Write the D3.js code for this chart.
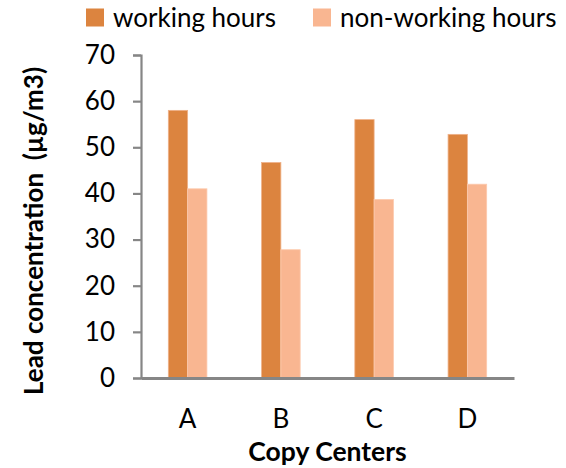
<!DOCTYPE html>
<html>
<head>
<meta charset="utf-8">
<script src="https://cdn.jsdelivr.net/npm/d3@7/dist/d3.min.js"></script>
<style>
  html, body { margin: 0; padding: 0; background: #fff; }
  svg { display: block; }
  text { font-family: Lato, "Open Sans", "Liberation Sans", sans-serif; fill: #000; }
</style>
</head>
<body>
<svg id="chart" width="566" height="468"></svg>
<script>
// Lead concentration at four copy centres
const centers = ["A", "B", "C", "D"];
const seriesNames = ["working hours", "non-working hours"];
const workingHours = [58, 46.7, 56, 52.8];
const nonWorkingHours = [41, 27.8, 38.7, 42];
const yTicks = [0, 10, 20, 30, 40, 50, 60, 70];
const colors = ["#DC843F", "#F9B691"];
const strokes = ["#EFB189", "#FCCAAE"];

const svg = d3.select("#chart");
const margin = { left: 141, right: 52, top: 55, bottom: 90 };
const W = 566, H = 468;
const plotW = W - margin.left - margin.right;
const plotH = H - margin.top - margin.bottom;

const series = [workingHours, nonWorkingHours];

const x0 = d3.scaleBand().domain(centers).range([0, plotW])
  .paddingInner(0.586).paddingOuter(0.293);
const x1 = d3.scaleBand().domain(d3.range(series.length)).range([0, x0.bandwidth()]);
const y = d3.scaleLinear().domain([0, 70]).range([plotH, 0]);

const g = svg.append("g").attr("transform", `translate(${margin.left},${margin.top})`);

// bars
const groups = g.selectAll("g.center").data(centers).join("g")
  .attr("class", "center")
  .attr("transform", d => `translate(${x0(d)},0)`);

groups.selectAll("rect").data((c, i) => series.map((s, k) => ({ k, v: s[i] }))).join("rect")
  .attr("x", d => x1(d.k))
  .attr("y", d => y(d.v))
  .attr("width", x1.bandwidth())
  .attr("height", d => plotH - y(d.v))
  .attr("fill", d => colors[d.k])
  .attr("stroke", d => strokes[d.k])
  .attr("stroke-width", 0.8);

// y axis
const yAxis = g.append("g")
  .call(d3.axisLeft(y).tickValues(yTicks).tickSize(8).tickPadding(18).tickSizeOuter(8));
yAxis.select(".domain").attr("stroke", "#868686").attr("stroke-width", 2.2);
yAxis.selectAll(".tick line").attr("stroke", "#868686").attr("stroke-width", 2.2);
yAxis.selectAll(".tick text").style("font-size", "26px").attr("fill", "#000");

// x axis
const xAxis = g.append("g").attr("transform", `translate(0,${plotH})`)
  .call(d3.axisBottom(x0).tickSize(0).tickPadding(32));
xAxis.select(".domain").attr("stroke", "#868686").attr("stroke-width", 3);
xAxis.selectAll(".tick text").style("font-size", "26px").attr("fill", "#000");

// axis titles
svg.append("text")
  .attr("x", margin.left + plotW / 2).attr("y", 461)
  .attr("text-anchor", "middle")
  .style("font-size", "26.5px").style("font-weight", "bold")
  .text("Copy Centers");

svg.append("text")
  .attr("transform", `translate(43,231) rotate(-90)`)
  .attr("text-anchor", "middle")
  .style("font-size", "26px").style("font-weight", "bold")
  .attr("xml:space", "preserve")
  .text("Lead concentration  (µg/m3)");

// legend
const legendX = [86, 313];
const legend = svg.append("g");
seriesNames.forEach((name, i) => {
  legend.append("rect")
    .attr("x", legendX[i]).attr("y", 8.5).attr("width", 18).attr("height", 18)
    .attr("fill", colors[i]);
  legend.append("text")
    .attr("x", legendX[i] + 27).attr("y", 27.3)
    .style("font-size", "26px")
    .text(name);
});
</script>
</body>
</html>
